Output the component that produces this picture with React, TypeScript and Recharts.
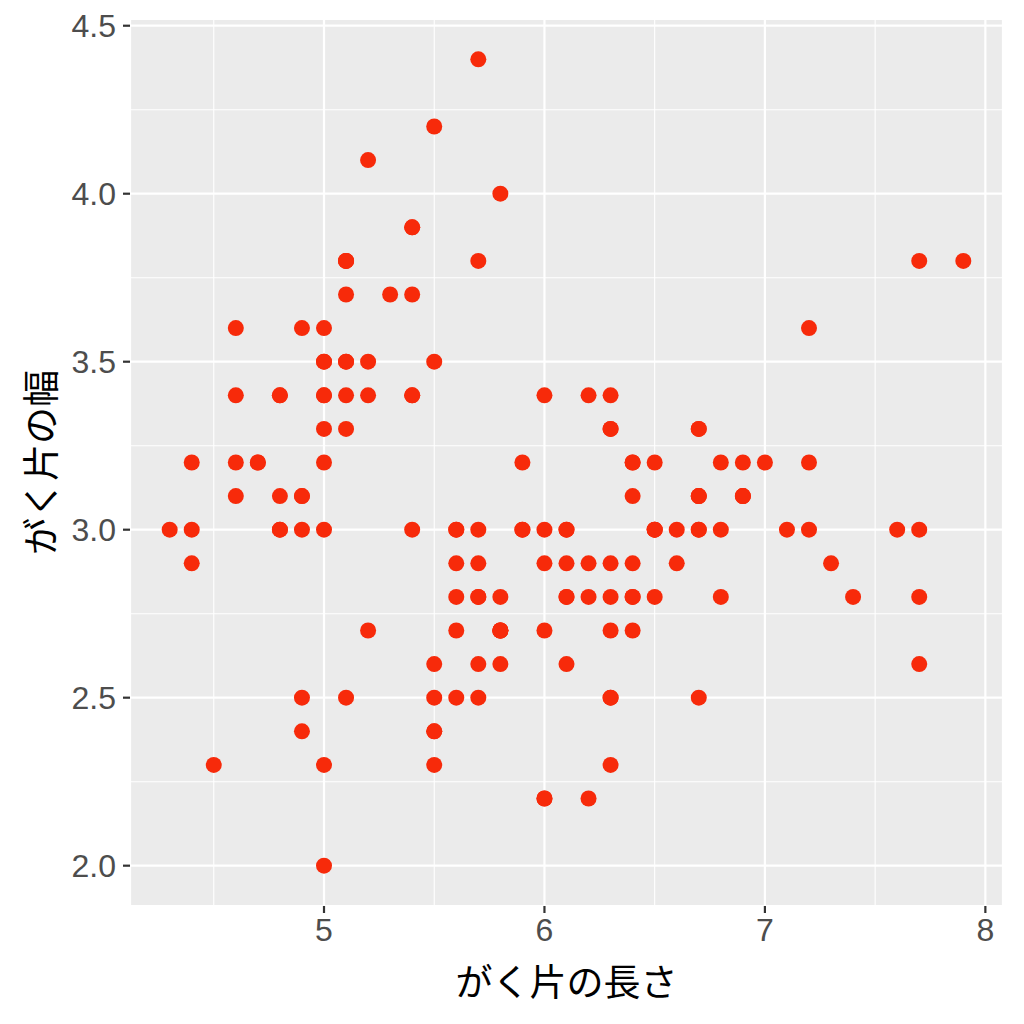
import React from 'react';
import {
  ScatterChart,
  Scatter,
  XAxis,
  YAxis,
  CartesianGrid,
  ReferenceLine,
  Label,
} from 'recharts';

// iris: がく片の長さ / がく片の幅
const sepalLength = [
  5.1, 4.9, 4.7, 4.6, 5.0, 5.4, 4.6, 5.0, 4.4, 4.9, 5.4, 4.8, 4.8, 4.3, 5.8, 5.7, 5.4, 5.1, 5.7, 5.1,
  5.4, 5.1, 4.6, 5.1, 4.8, 5.0, 5.0, 5.2, 5.2, 4.7, 4.8, 5.4, 5.2, 5.5, 4.9, 5.0, 5.5, 4.9, 4.4, 5.1,
  5.0, 4.5, 4.4, 5.0, 5.1, 4.8, 5.1, 4.6, 5.3, 5.0,
  7.0, 6.4, 6.9, 5.5, 6.5, 5.7, 6.3, 4.9, 6.6, 5.2, 5.0, 5.9, 6.0, 6.1, 5.6, 6.7, 5.6, 5.8, 6.2, 5.6,
  5.9, 6.1, 6.3, 6.1, 6.4, 6.6, 6.8, 6.7, 6.0, 5.7, 5.5, 5.5, 5.8, 6.0, 5.4, 6.0, 6.7, 6.3, 5.6, 5.5,
  5.5, 6.1, 5.8, 5.0, 5.6, 5.7, 5.7, 6.2, 5.1, 5.7,
  6.3, 5.8, 7.1, 6.3, 6.5, 7.6, 4.9, 7.3, 6.7, 7.2, 6.5, 6.4, 6.8, 5.7, 5.8, 6.4, 6.5, 7.7, 7.7, 6.0,
  6.9, 5.6, 7.7, 6.3, 6.7, 7.2, 6.2, 6.1, 6.4, 7.2, 7.4, 7.9, 6.4, 6.3, 6.1, 7.7, 6.3, 6.4, 6.0, 6.9,
  6.7, 6.9, 5.8, 6.8, 6.7, 6.7, 6.3, 6.5, 6.2, 5.9,
];
const sepalWidth = [
  3.5, 3.0, 3.2, 3.1, 3.6, 3.9, 3.4, 3.4, 2.9, 3.1, 3.7, 3.4, 3.0, 3.0, 4.0, 4.4, 3.9, 3.5, 3.8, 3.8,
  3.4, 3.7, 3.6, 3.3, 3.4, 3.0, 3.4, 3.5, 3.4, 3.2, 3.1, 3.4, 4.1, 4.2, 3.1, 3.2, 3.5, 3.6, 3.0, 3.4,
  3.5, 2.3, 3.2, 3.5, 3.8, 3.0, 3.8, 3.2, 3.7, 3.3,
  3.2, 3.2, 3.1, 2.3, 2.8, 2.8, 3.3, 2.4, 2.9, 2.7, 2.0, 3.0, 2.2, 2.9, 2.9, 3.1, 3.0, 2.7, 2.2, 2.5,
  3.2, 2.8, 2.5, 2.8, 2.9, 3.0, 2.8, 3.0, 2.9, 2.6, 2.4, 2.4, 2.7, 2.7, 3.0, 3.4, 3.1, 2.3, 3.0, 2.5,
  2.6, 3.0, 2.6, 2.3, 2.7, 3.0, 2.9, 2.9, 2.5, 2.8,
  3.3, 2.7, 3.0, 2.9, 3.0, 3.0, 2.5, 2.9, 2.5, 3.6, 3.2, 2.7, 3.0, 2.5, 2.8, 3.2, 3.0, 3.8, 2.6, 2.2,
  3.2, 2.8, 2.8, 2.7, 3.3, 3.2, 2.8, 3.0, 2.8, 3.0, 2.8, 3.8, 2.8, 2.8, 2.6, 3.0, 3.4, 3.1, 3.0, 3.1,
  3.1, 3.1, 2.7, 3.2, 3.3, 3.0, 2.5, 3.0, 3.4, 3.0,
];

const xTicks = [5, 6, 7, 8];
const xMinor = [4.5, 5.5, 6.5, 7.5];
const yTicks = [2.0, 2.5, 3.0, 3.5, 4.0, 4.5];
const yMinor = [2.25, 2.75, 3.25, 3.75, 4.25];

const data = sepalLength.map((x, i) => ({ x, y: sepalWidth[i] }));

const FONT = '"Liberation Sans", Arial, sans-serif';
const JP_FONT = '"Noto Sans CJK JP", sans-serif';
const tickStyle = { fontSize: 32, fill: '#4D4D4D', fontFamily: FONT };

export default function App() {
  return (
    <div style={{ position: 'absolute', left: 0, top: 0, width: 1024, height: 1024, background: '#fff' }}>
      <ScatterChart width={1024} height={1024} margin={{ top: 19, right: 21, left: 0, bottom: 0 }}>
        <CartesianGrid fill="#EBEBEB" stroke="#FFFFFF" strokeWidth={2.2} />
        {xMinor.map(v => (
          <ReferenceLine key={`xm${v}`} x={v} stroke="#FFFFFF" strokeWidth={1.1} />
        ))}
        {yMinor.map(v => (
          <ReferenceLine key={`ym${v}`} y={v} stroke="#FFFFFF" strokeWidth={1.1} />
        ))}
        <XAxis
          type="number"
          dataKey="x"
          domain={[4.12, 8.08]}
          ticks={xTicks}
          tickFormatter={v => `${v}`}
          axisLine={false}
          tickLine={{ stroke: '#333333', strokeWidth: 2.2 }}
          tickSize={7}
          tick={{ ...tickStyle, dy: 3 }}
          height={118}
        >
          <Label
            value="がく片の長さ"
            position="insideBottom"
            offset={28}
            style={{ fontSize: 37, fill: '#000', fontFamily: JP_FONT }}
          />
        </XAxis>
        <YAxis
          type="number"
          dataKey="y"
          domain={[1.88, 4.52]}
          ticks={yTicks}
          tickFormatter={v => v.toFixed(1)}
          axisLine={false}
          tickLine={{ stroke: '#333333', strokeWidth: 2.2 }}
          tickSize={7}
          tick={{ ...tickStyle, dx: -5 }}
          width={130}
        >
          <Label
            value="がく片の幅"
            angle={-90}
            position="insideLeft"
            offset={42}
            style={{ fontSize: 37, fill: '#000', fontFamily: JP_FONT, textAnchor: 'middle' }}
          />
        </YAxis>
        <Scatter
          data={data}
          fill="#F72A0A"
          isAnimationActive={false}
          shape={(props: any) => <circle cx={props.cx} cy={props.cy} r={8} fill="#F72A0A" />}
        />
      </ScatterChart>
    </div>
  );
}
